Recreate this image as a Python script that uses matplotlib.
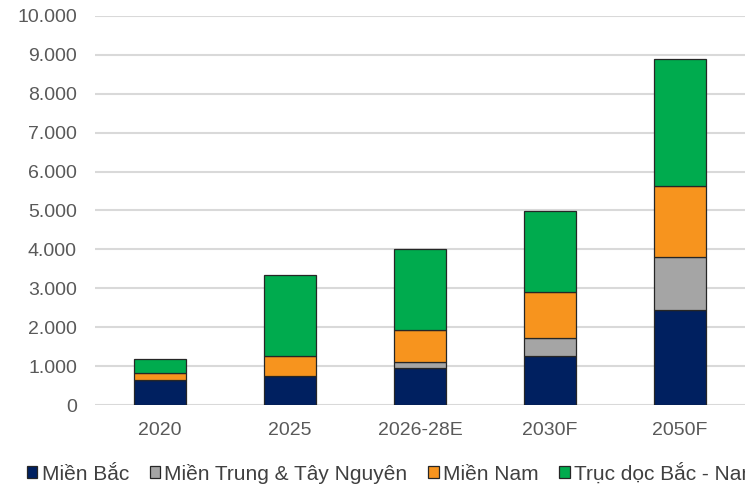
import matplotlib.pyplot as plt
import numpy as np

plt.rcParams['font.family'] = ['Liberation Sans', 'DejaVu Sans']

# du lieu doc tu bieu do
years = ['2020', '2025', '2026-28E', '2030F', '2050F']
mien_bac = [650, 740, 960, 1260, 2440]
mien_trung = [0, 0, 140, 450, 1360]
mien_nam = [170, 530, 820, 1190, 1830]
truc_doc = [350, 2070, 2080, 2100, 3270]
labels = ['Miền Bắc', 'Miền Trung & Tây Nguyên', 'Miền Nam', 'Trục dọc Bắc - Nam']
colors = ['#002060', '#A5A5A5', '#F7941E', '#00AB4E']
yticks = [0, 1000, 2000, 3000, 4000, 5000, 6000, 7000, 8000, 9000, 10000]

fig = plt.figure(figsize=(7.45, 4.86), dpi=100)
ax = fig.add_axes([95/745, 1 - 405/486, 1 - 95/745, (405 - 16)/486])

x = np.arange(len(years))
bottom = np.zeros(len(years))
for vals, lab, col in zip([mien_bac, mien_trung, mien_nam, truc_doc], labels, colors):
    ax.bar(x, vals, 0.4, bottom=bottom, color=col, edgecolor='#262626',
           linewidth=0.9, label=lab, zorder=3)
    bottom += np.array(vals)

ax.set_xlim(-0.5, 4.5)
ax.set_ylim(0, 10000)
ax.set_yticks(yticks)
ax.set_yticklabels([f'{v:,}'.replace(',', '.') for v in yticks])
ax.set_xticks(x)
ax.set_xticklabels(years)
ax.tick_params(length=0, labelsize=14, colors='#595959')
ax.tick_params(axis='y', pad=13)
ax.tick_params(axis='x', pad=12)
ax.yaxis.grid(True, color='#D9D9D9', linewidth=1.5, zorder=0)
for s in ax.spines.values():
    s.set_visible(False)

fig.legend(loc='center left', bbox_to_anchor=(27/745, 1 - 473/486), ncol=4,
           frameon=False, fontsize=15, handlelength=0.5, handleheight=0.5,
           handletextpad=0.2, columnspacing=1.0, labelcolor='#404040',
           borderaxespad=0, borderpad=0)

fig.savefig('out.png', dpi=100)
